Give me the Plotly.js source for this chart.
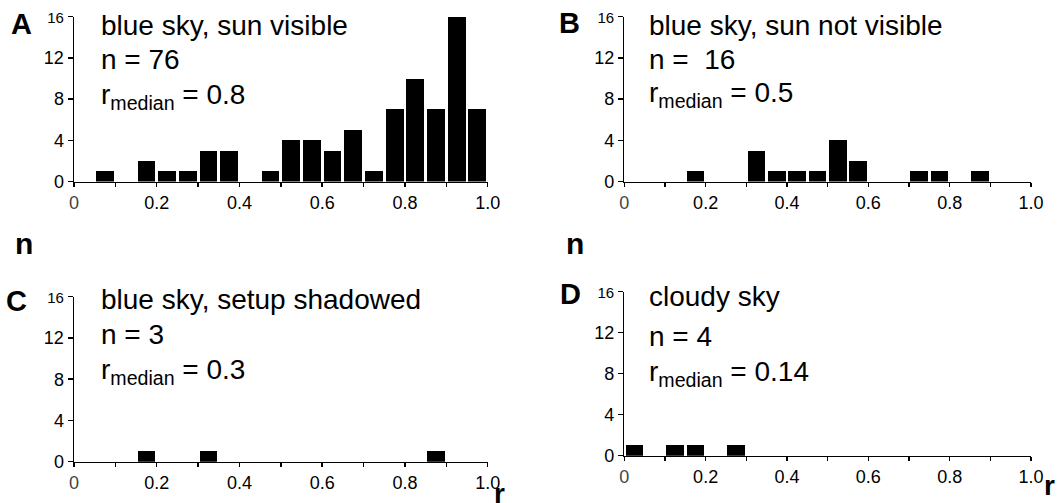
<!DOCTYPE html>
<html>
<head>
<meta charset="utf-8">
<script src="https://cdn.plot.ly/plotly-3.0.1.min.js"></script>
<style>
  html, body { margin: 0; padding: 0; background: #fff; }
  #chart { width: 1061px; height: 503px; }
</style>
</head>
<body>
<div id="chart"></div>
<script>
// ---- data ----
const binCenters = [0.025, 0.075, 0.125, 0.175, 0.225, 0.275, 0.325, 0.375, 0.425, 0.475,
                    0.525, 0.575, 0.625, 0.675, 0.725, 0.775, 0.825, 0.875, 0.925, 0.975];
const countsA = [0, 1, 0, 2, 1, 1, 3, 3, 0, 1, 4, 4, 3, 5, 1, 7, 10, 7, 16, 7];
const countsB = [0, 0, 0, 1, 0, 0, 3, 1, 1, 1, 4, 2, 0, 0, 1, 1, 0, 1, 0, 0];
const countsC = [0, 0, 0, 1, 0, 0, 1, 0, 0, 0, 0, 0, 0, 0, 0, 0, 0, 1, 0, 0];
const countsD = [1, 0, 1, 1, 0, 1, 0, 0, 0, 0, 0, 0, 0, 0, 0, 0, 0, 0, 0, 0];

const panelLetters = ['A', 'B', 'C', 'D'];
const panelTitles = ['blue sky, sun visible', 'blue sky, sun not visible', 'blue sky, setup shadowed', 'cloudy sky'];
const panelN = ['n = 76', 'n =  16', 'n = 3', 'n = 4'];
const panelMedian = ['0.8', '0.5', '0.3', '0.14'];

const xTickVals = [0, 0.1, 0.2, 0.3, 0.4, 0.5, 0.6, 0.7, 0.8, 0.9, 1.0];
const xTickText = ['0', ' ', '0.2', ' ', '0.4', ' ', '0.6', ' ', '0.8', ' ', '1.0'];
const yTickVals = [0, 4, 8, 12, 16];
const yTickText = ['0', '4', '8', '12', '16'];

// ---- layout helpers ----
const W = 1061, H = 503;
const FONT = 'Liberation Sans, Arial, Helvetica, sans-serif';
const barWidth = 0.043;

function bars(counts, xa, ya) {
  return {
    type: 'bar', x: binCenters, y: counts, width: barWidth,
    xaxis: xa, yaxis: ya,
    marker: { color: '#000', line: { width: 0 } },
    hoverinfo: 'skip', showlegend: false
  };
}

function xAxis(x0, x1, anchor) {
  return {
    domain: [x0 / W, x1 / W], range: [0, 1], anchor: anchor,
    tickmode: 'array', tickvals: xTickVals,
    ticktext: xTickText.map(t => t === '0' ? '<span style="color:#444">0</span>' : t),
    ticks: 'outside', ticklen: 4, tickwidth: 1.5, tickcolor: '#000',
    showline: true, linecolor: '#000', linewidth: 1.5,
    showgrid: false, zeroline: false, fixedrange: true,
    tickfont: { family: FONT, size: 18, color: '#000' }
  };
}
function yAxis(yBottom, yTop, anchor) {
  return {
    domain: [1 - yBottom / H, 1 - yTop / H], range: [0, 16], anchor: anchor,
    tickmode: 'array', tickvals: yTickVals,
    ticktext: yTickText.map(t => t === '16' ? '<span style="font-size:15px">16</span>' : t),
    ticks: 'outside', ticklen: 5, tickwidth: 1.5, tickcolor: '#000',
    showline: true, linecolor: '#000', linewidth: 1.5,
    showgrid: false, zeroline: false, fixedrange: true,
    tickfont: { family: FONT, size: 18, color: '#000' }
  };
}

function txt(text, xpx, baseline, size, anchor) {
  return {
    xref: 'paper', yref: 'paper',
    x: xpx / W, y: 1 - (baseline - 0.905 * size) / H,
    xanchor: anchor || 'left', yanchor: 'top',
    text: text, showarrow: false, borderpad: 0,
    font: { family: FONT, size: size, color: '#000' }
  };
}

const textX = [100, 648, 100, 648];
const baselines = [[34, 68, 103], [34, 68, 101], [308, 343, 378], [305, 345, 380]];
const letterPos = [[10, 33], [558, 32], [5, 310], [559, 303]];

const annotations = [];
for (let i = 0; i < 4; i++) {
  annotations.push(txt('<b>' + panelLetters[i] + '</b>', letterPos[i][0], letterPos[i][1], 29));
  annotations.push(txt(panelTitles[i], textX[i], baselines[i][0], 28));
  annotations.push(txt(panelN[i], textX[i], baselines[i][1], 28));
  annotations.push(txt('r<sub>median</sub> = ' + panelMedian[i], textX[i], baselines[i][2], 28));
}
annotations.push(txt('<b>n</b>', 14, 253, 30));
annotations.push(txt('<b>n</b>', 565, 253, 30));
annotations.push(txt('<b>r</b>', 493, 502, 28));
annotations.push(txt('<b>r</b>', 1043, 494, 28));

const data = [
  bars(countsA, 'x', 'y'),
  bars(countsB, 'x2', 'y2'),
  bars(countsC, 'x3', 'y3'),
  bars(countsD, 'x4', 'y4')
];

const layout = {
  width: W, height: H,
  margin: { l: 0, r: 0, t: 0, b: 0 },
  paper_bgcolor: '#fff', plot_bgcolor: '#fff',
  showlegend: false, bargap: 0,
  font: { family: FONT, color: '#000' },
  xaxis: xAxis(74, 487.7, 'y'),
  yaxis: yAxis(181.5, 16.7, 'x'),
  xaxis2: xAxis(624.3, 1031, 'y2'),
  yaxis2: yAxis(181.5, 16.7, 'x2'),
  xaxis3: xAxis(74, 487.7, 'y3'),
  yaxis3: yAxis(461.7, 296.7, 'x3'),
  xaxis4: xAxis(624.3, 1031, 'y4'),
  yaxis4: yAxis(455.7, 291.7, 'x4'),
  annotations: annotations
};

Plotly.newPlot('chart', data, layout, { staticPlot: true, displayModeBar: false });
</script>
</body>
</html>
